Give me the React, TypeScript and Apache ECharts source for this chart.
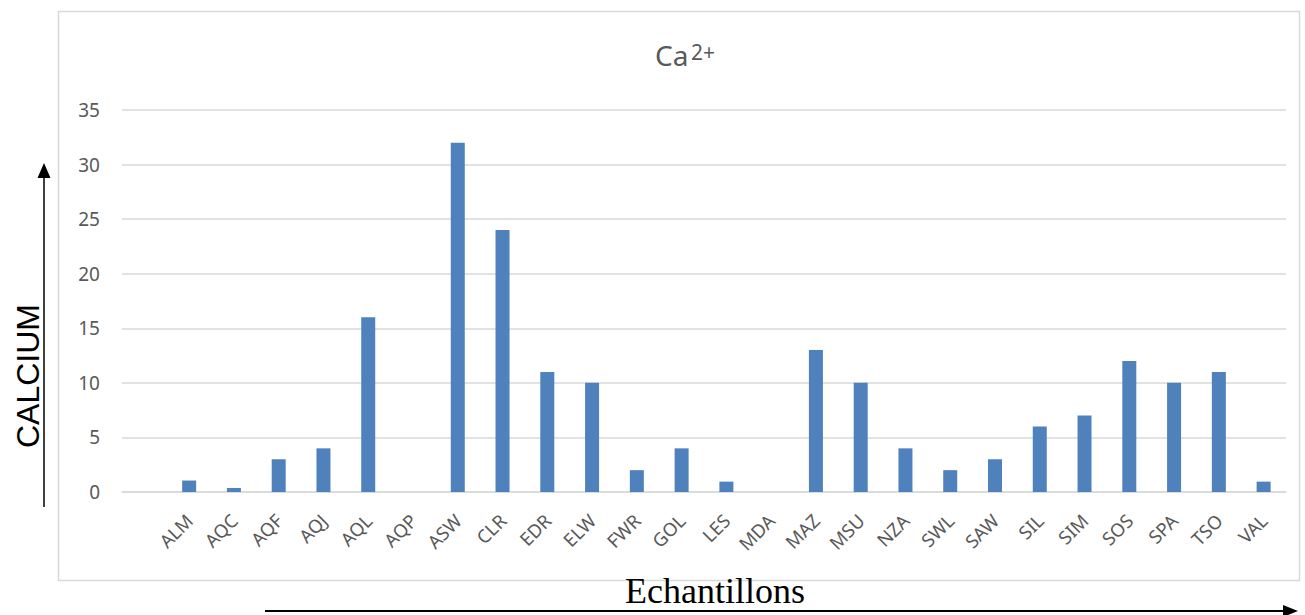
import React, { useEffect, useRef } from "react";
import * as echarts from "echarts";

const categories = [
  "ALM", "AQC", "AQF", "AQJ", "AQL", "AQP", "ASW", "CLR", "EDR", "ELW",
  "FWR", "GOL", "LES", "MDA", "MAZ", "MSU", "NZA", "SWL", "SAW", "SIL",
  "SIM", "SOS", "SPA", "TSO", "VAL",
];
const calcium = [
  1.05, 0.37, 3, 4, 16, 0, 32, 24, 11, 10,
  2, 4, 0.95, 0, 13, 10, 4, 2, 3, 6,
  7, 12, 10, 11, 0.95,
];
const yTicks = { min: 0, max: 35, interval: 5 };
const titleMain = "Ca";
const titleSup = "2+";
const yName = "CALCIUM";
const xName = "Echantillons";

export default function App() {
  const ref = useRef<HTMLDivElement>(null);
  useEffect(() => {
    if (!ref.current) return;
    const chart = echarts.init(ref.current, null, { renderer: "svg" });
    const axisCats = ["", ...categories];
    const values: (number | null)[] = [null, ...calcium];
    chart.setOption({
      animation: false,
      backgroundColor: "#ffffff",
      grid: { left: 122, right: 19, top: 110, bottom: 123, containLabel: false },
      xAxis: {
        type: "category",
        data: axisCats,
        boundaryGap: true,
        axisLine: { show: true, lineStyle: { color: "#d9d9d9", width: 1.5 } },
        axisTick: { show: false },
        axisLabel: {
          interval: 0,
          rotate: 45,
          color: "#595959",
          fontSize: 18.5,
          fontFamily: "Noto Sans",
          margin: 25,
        },
      },
      yAxis: {
        type: "value",
        min: yTicks.min,
        max: yTicks.max,
        interval: yTicks.interval,
        axisLine: { show: false },
        axisTick: { show: false },
        axisLabel: { color: "#595959", fontSize: 19, fontFamily: "Noto Sans", margin: 22 },
        splitLine: { lineStyle: { color: "#d9d9d9", width: 1.5 } },
      },
      series: [
        {
          type: "bar",
          data: values,
          barWidth: 14,
          itemStyle: { color: "#4f81bd" },
        },
      ],
      graphic: [
        {
          type: "rect",
          shape: { x: 58.5, y: 11.5, width: 1241, height: 569 },
          style: { fill: "none", stroke: "#d9d9d9", lineWidth: 1.5 },
          z: -1,
        },
        {
          type: "text",
          x: 655,
          y: 69,
          style: {
            text: titleMain,
            fontSize: 28,
            fontFamily: "Noto Sans",
            fill: "#595959",
            textAlign: "left",
            textVerticalAlign: "bottom",
          },
        },
        {
          type: "text",
          x: 691,
          y: 41,
          style: {
            text: titleSup,
            fontSize: 21,
            fontFamily: "Noto Sans",
            fill: "#595959",
            textAlign: "left",
            textVerticalAlign: "top",
          },
        },
        {
          type: "text",
          x: 28,
          y: 376,
          rotation: Math.PI / 2,
          style: {
            text: yName,
            fontSize: 32,
            fontFamily: "Liberation Sans",
            fill: "#000000",
            textAlign: "center",
            textVerticalAlign: "middle",
          },
        },
        {
          type: "line",
          shape: { x1: 44, y1: 507, x2: 44, y2: 175 },
          style: { stroke: "#000000", lineWidth: 1.5 },
        },
        {
          type: "polygon",
          shape: { points: [[44, 163], [37.5, 178], [50.5, 178]] },
          style: { fill: "#000000" },
        },
        {
          type: "text",
          x: 715,
          y: 609,
          style: {
            text: xName,
            fontSize: 36,
            fontFamily: "Liberation Serif",
            fill: "#000000",
            textAlign: "center",
            textVerticalAlign: "bottom",
          },
        },
        {
          type: "line",
          shape: { x1: 265, y1: 611, x2: 1285, y2: 611 },
          style: { stroke: "#000000", lineWidth: 2 },
        },
        {
          type: "polygon",
          shape: { points: [[1298, 611], [1283, 605], [1283, 617]] },
          style: { fill: "#000000" },
        },
      ],
    });
    return () => chart.dispose();
  }, []);
  return (
    <div
      ref={ref}
      style={{ position: "fixed", left: 0, top: 0, width: 1305, height: 615 }}
    />
  );
}
